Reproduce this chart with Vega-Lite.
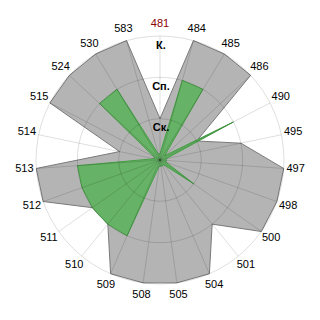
{
  "$schema": "https://vega.github.io/schema/vega-lite/v6.json",
  "width": 320,
  "height": 320,
  "autosize": {"type": "fit", "contains": "padding"},
  "padding": 0,
  "background": "white",
  "config": {"view": {"stroke": null}},
  "datasets": {
    "cats": [
      {"cat": "481", "outer": 1, "inner": 0.15},
      {"cat": "484", "outer": 3, "inner": 2},
      {"cat": "485", "outer": 3, "inner": 2},
      {"cat": "486", "outer": 3, "inner": 0.15},
      {"cat": "490", "outer": 1, "inner": 2},
      {"cat": "495", "outer": 2, "inner": 0.15},
      {"cat": "497", "outer": 3, "inner": 0.15},
      {"cat": "498", "outer": 3, "inner": 0.15},
      {"cat": "500", "outer": 3, "inner": 1},
      {"cat": "501", "outer": 2, "inner": 0.15},
      {"cat": "504", "outer": 3, "inner": 0.15},
      {"cat": "505", "outer": 3, "inner": 0.15},
      {"cat": "508", "outer": 3, "inner": 0.15},
      {"cat": "509", "outer": 3, "inner": 2},
      {"cat": "510", "outer": 2, "inner": 2},
      {"cat": "511", "outer": 2, "inner": 2},
      {"cat": "512", "outer": 3, "inner": 2},
      {"cat": "513", "outer": 3, "inner": 2},
      {"cat": "514", "outer": 1, "inner": 0.15},
      {"cat": "515", "outer": 3, "inner": 0.15},
      {"cat": "524", "outer": 3, "inner": 2},
      {"cat": "530", "outer": 3, "inner": 2},
      {"cat": "583", "outer": 3, "inner": 0.15}
    ],
    "rings": [
      {"level": 1, "label": "Ск."},
      {"level": 2, "label": "Сп."},
      {"level": 3, "label": "К."}
    ]
  },
  "layer": [
    {
      "data": {"name": "cats"},
      "transform": [
        {"window": [{"op": "row_number", "as": "idx"}]},
        {"calculate": "(datum.idx - 1) * 2 * PI / 23", "as": "ang"},
        {"calculate": "datum.outer * sin(datum.ang)", "as": "px"},
        {"calculate": "datum.outer * cos(datum.ang)", "as": "py"}
      ],
      "mark": {"type": "line", "interpolate": "linear-closed", "fill": "#b4b4b4", "stroke": "#7a7a7a", "strokeWidth": 1},
      "encoding": {
        "x": {"field": "px", "type": "quantitative", "scale": {"domain": [-3.871, 3.871], "nice": false, "zero": false}, "axis": null},
        "y": {"field": "py", "type": "quantitative", "scale": {"domain": [-3.871, 3.871], "nice": false, "zero": false}, "axis": null},
        "order": {"field": "idx", "type": "quantitative"}
      }
    },
    {
      "data": {"name": "cats"},
      "transform": [
        {"window": [{"op": "row_number", "as": "idx"}]},
        {"calculate": "(datum.idx - 1) * 2 * PI / 23", "as": "ang"},
        {"calculate": "datum.inner * sin(datum.ang)", "as": "px"},
        {"calculate": "datum.inner * cos(datum.ang)", "as": "py"}
      ],
      "mark": {"type": "line", "interpolate": "linear-closed", "fill": "#66b266", "stroke": "#44a044", "strokeWidth": 1},
      "encoding": {
        "x": {"field": "px", "type": "quantitative"},
        "y": {"field": "py", "type": "quantitative"},
        "order": {"field": "idx", "type": "quantitative"}
      }
    },
    {
      "data": {"name": "rings"},
      "mark": {"type": "point", "shape": "circle", "filled": false, "stroke": "#000000", "strokeOpacity": 0.13, "strokeWidth": 1, "opacity": 1},
      "encoding": {
        "x": {"datum": 0, "type": "quantitative"},
        "y": {"datum": 0, "type": "quantitative"},
        "size": {"field": "level", "type": "quantitative", "scale": {"type": "pow", "exponent": 2, "domain": [0, 3], "range": [0, 61504]}, "legend": null}
      }
    },
    {
      "data": {"name": "cats"},
      "transform": [
        {"window": [{"op": "row_number", "as": "idx"}]},
        {"calculate": "(datum.idx - 1) * 2 * PI / 23", "as": "ang"},
        {"calculate": "3 * sin(datum.ang)", "as": "sx"},
        {"calculate": "3 * cos(datum.ang)", "as": "sy"},
        {"calculate": "0", "as": "zx"}
      ],
      "mark": {"type": "rule", "stroke": "#000000", "strokeOpacity": 0.13, "strokeWidth": 1},
      "encoding": {
        "x": {"field": "zx", "type": "quantitative"},
        "y": {"field": "zx", "type": "quantitative"},
        "x2": {"field": "sx"},
        "y2": {"field": "sy"}
      }
    },
    {
      "data": {"name": "rings"},
      "mark": {"type": "text", "font": "Liberation Sans", "fontSize": 11, "fontWeight": "bold", "align": "center", "baseline": "middle", "dy": 9.5, "dx": 1, "fill": "#000000"},
      "encoding": {
        "x": {"datum": 0, "type": "quantitative"},
        "y": {"field": "level", "type": "quantitative"},
        "text": {"field": "label"}
      }
    },
    {
      "data": {"name": "cats"},
      "transform": [
        {"window": [{"op": "row_number", "as": "idx"}]},
        {"calculate": "(datum.idx - 1) * 2 * PI / 23", "as": "ang"},
        {"calculate": "3.29 * sin(datum.ang)", "as": "lx"},
        {"calculate": "3.29 * cos(datum.ang)", "as": "ly"}
      ],
      "mark": {"type": "text", "font": "Liberation Sans", "fontSize": 11, "align": "center", "baseline": "middle"},
      "encoding": {
        "x": {"field": "lx", "type": "quantitative"},
        "y": {"field": "ly", "type": "quantitative"},
        "text": {"field": "cat"},
        "color": {"condition": {"test": "datum.cat === '481'", "value": "#8b0000"}, "value": "#000000"}
      }
    }
  ]
}
